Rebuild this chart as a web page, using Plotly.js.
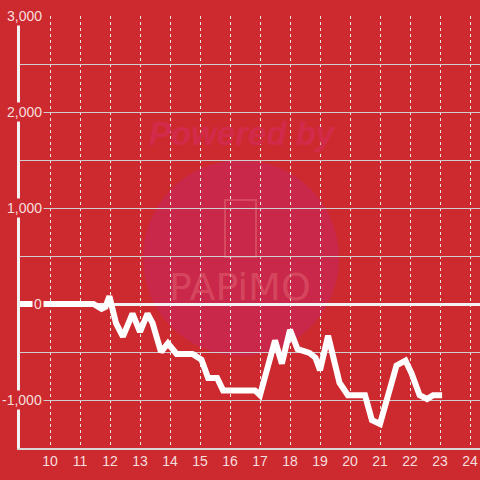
<!DOCTYPE html>
<html><head><meta charset="utf-8">
<script src="https://cdn.plot.ly/plotly-3.0.1.min.js"></script>
<style>html,body{margin:0;padding:0;background:#cd2a2f;}#chart{width:480px;height:480px;}</style>
</head><body><div id="chart"></div>
<script>
// Data (hour of day vs. value)
const hours = [9.0, 11.45, 11.72, 11.85, 11.98, 12.2, 12.43, 12.75, 13.0, 13.25, 13.42, 13.7, 13.93, 14.22, 14.75, 15.05, 15.27, 15.57, 15.77, 16.83, 17.0, 17.5, 17.73, 18.0, 18.25, 18.65, 18.85, 19.0, 19.27, 19.65, 19.93, 20.5, 20.73, 21.0, 21.55, 21.85, 22.05, 22.32, 22.57, 22.77, 23.07];
const values = [0, 0, -50, -30, 80, -200, -340, -100, -290, -100, -200, -500, -410, -520, -520, -580, -770, -770, -900, -900, -950, -380, -620, -270, -470, -510, -560, -690, -330, -820, -950, -950, -1210, -1250, -640, -590, -720, -950, -990, -950, -950];
const xTickVals = [10, 11, 12, 13, 14, 15, 16, 17, 18, 19, 20, 21, 22, 23, 24];
const xTickText = ["10", "11", "12", "13", "14", "15", "16", "17", "18", "19", "20", "21", "22", "23", "24"];
const yTickVals = [3000, 2000, 1000, 0, -1000];
const yTickText = ["3,000", "2,000", "1,000", "0", "-1,000"];

const bg = '#cd2a2f';
const labelColor = '#f6dede';
const font = 'Liberation Sans, Arial, sans-serif';

const yLabelAnnotations = yTickVals.map((v, i) => ({
  xref: 'paper', yref: 'y', x: 24 / 460, y: v, xanchor: 'right', yanchor: 'middle',
  text: yTickText[i], showarrow: false, bgcolor: bg, borderpad: 1,
  font: {family: font, size: 14, color: labelColor}
}));

const watermark = [
  {xref: 'paper', yref: 'paper', x: (242 - 20) / 460, y: (448 - 133) / 432, xanchor: 'center', yanchor: 'middle',
   text: '<b><i>Powered by</i></b>', showarrow: false,
   font: {family: font, size: 33, color: '#d22a4a'}},
  {xref: 'paper', yref: 'paper', x: (240 - 20) / 460, y: (448 - 287) / 432, xanchor: 'center', yanchor: 'middle',
   text: 'PAPiMO', showarrow: false,
   font: {family: 'DejaVu Sans, sans-serif', size: 38, color: 'rgba(230,110,120,0.45)'}}
];

const layout = {
  width: 480, height: 480,
  margin: {l: 20, r: 0, t: 16, b: 32},
  paper_bgcolor: bg, plot_bgcolor: bg,
  showlegend: false,
  xaxis: {
    range: [9, 9 + 460 / 30], tickvals: xTickVals, ticktext: xTickText,
    showgrid: true, gridcolor: '#e6e6e6', griddash: 'dot', gridwidth: 1,
    showline: true, linecolor: '#d8d8d8', linewidth: 1.5,
    zeroline: false, ticks: '', fixedrange: true,
    tickfont: {family: font, size: 14, color: labelColor}
  },
  yaxis: {
    range: [-1500, 3000], dtick: 500, tick0: 0,
    showgrid: true, gridcolor: '#cfcfcf', gridwidth: 1,
    showline: true, linecolor: '#f2f2f2', linewidth: 3,
    zeroline: true, zerolinecolor: '#f2f2f2', zerolinewidth: 3,
    showticklabels: false, ticks: '', fixedrange: true
  },
  shapes: [
    {type: 'circle', layer: 'below', xref: 'paper', yref: 'paper',
     x0: (143 - 20) / 460, x1: (339 - 20) / 460, y0: (448 - 356) / 432, y1: (448 - 160) / 432,
     fillcolor: '#c9284a', line: {width: 0}},
    {type: 'rect', layer: 'below', xref: 'paper', yref: 'paper',
     x0: (225 - 20) / 460, x1: (256 - 20) / 460, y0: (448 - 257) / 432, y1: (448 - 200) / 432,
     fillcolor: 'rgba(0,0,0,0)', line: {width: 2, color: 'rgba(230,110,120,0.45)'}}
  ],
  annotations: watermark.concat(yLabelAnnotations)
};

const trace = {
  x: hours, y: values, type: 'scatter', mode: 'lines',
  line: {color: '#ffffff', width: 6, shape: 'linear'},
  hoverinfo: 'skip'
};

Plotly.newPlot('chart', [trace], layout, {staticPlot: true, displayModeBar: false});
</script></body></html>
